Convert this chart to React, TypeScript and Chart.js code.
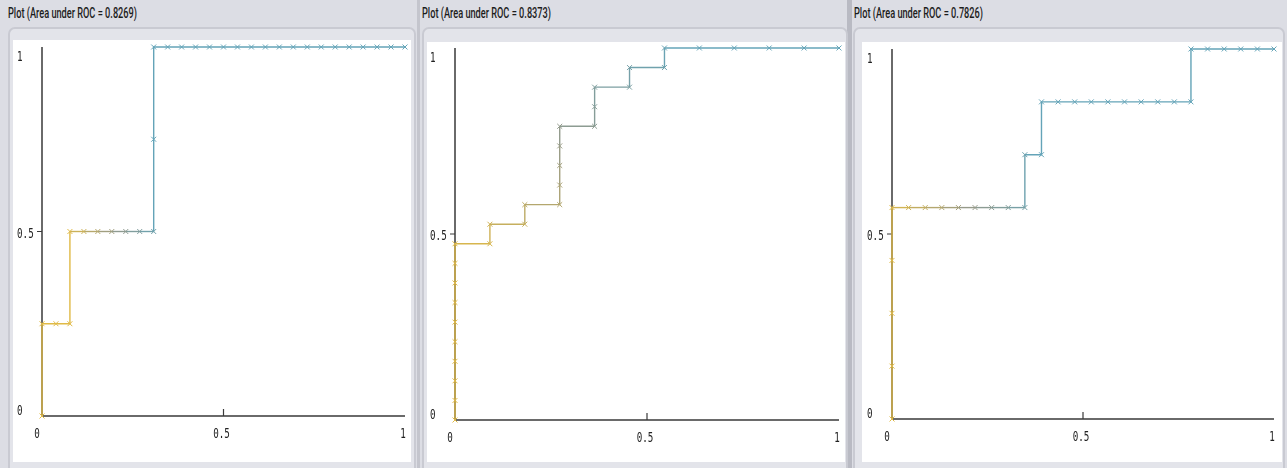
import React, { useEffect, useRef } from "react";
import { Chart, registerables } from "chart.js";

Chart.register(...registerables);

// ---- Data ----
const titles = [
  "Plot (Area under ROC = 0.8269)",
  "Plot (Area under ROC = 0.8373)",
  "Plot (Area under ROC = 0.7826)",
];

const tickValues = [0, 0.5, 1];
const tickLabels = ["0", "0.5", "1"];

const roc1Fpr = [0, 0, 0.0385, 0.0769, 0.0769, 0.1154, 0.1538, 0.1923, 0.2308, 0.2692, 0.3077, 0.3077, 0.3077,
  0.3462, 0.3846, 0.4231, 0.4615, 0.5, 0.5385, 0.5769, 0.6154, 0.6538, 0.6923, 0.7308, 0.7692, 0.8077, 0.8462,
  0.8846, 0.9231, 0.9615, 1];
const roc1Tpr = [0, 0.25, 0.25, 0.25, 0.5, 0.5, 0.5, 0.5, 0.5, 0.5, 0.5, 0.75, 1,
  1, 1, 1, 1, 1, 1, 1, 1, 1, 1, 1, 1, 1, 1, 1, 1, 1, 1];

const roc2Fpr = [0, 0, 0, 0, 0, 0, 0, 0, 0, 0, 0.0909, 0.0909, 0.1818, 0.1818, 0.2727, 0.2727, 0.2727, 0.2727,
  0.2727, 0.3636, 0.3636, 0.3636, 0.4545, 0.4545, 0.5455, 0.5455, 0.6364, 0.7273, 0.8182, 0.9091, 1];
const roc2Tpr = [0, 0.0526, 0.1053, 0.1579, 0.2105, 0.2632, 0.3158, 0.3684, 0.4211, 0.4737, 0.4737, 0.5263,
  0.5263, 0.5789, 0.5789, 0.6316, 0.6842, 0.7368, 0.7895, 0.7895, 0.8421, 0.8947, 0.8947, 0.9474, 0.9474, 1,
  1, 1, 1, 1, 1];

const roc3Fpr = [0, 0, 0, 0, 0, 0.0435, 0.087, 0.1304, 0.1739, 0.2174, 0.2609, 0.3043, 0.3478, 0.3478, 0.3913,
  0.3913, 0.4348, 0.4783, 0.5217, 0.5652, 0.6087, 0.6522, 0.6957, 0.7391, 0.7826, 0.7826, 0.8261, 0.8696,
  0.913, 0.9565, 1];
const roc3Tpr = [0, 0.1429, 0.2857, 0.4286, 0.5714, 0.5714, 0.5714, 0.5714, 0.5714, 0.5714, 0.5714, 0.5714,
  0.5714, 0.7143, 0.7143, 0.8571, 0.8571, 0.8571, 0.8571, 0.8571, 0.8571, 0.8571, 0.8571, 0.8571, 0.8571, 1,
  1, 1, 1, 1, 1];

// ---- Layout / style ----
const PANELS = [
  { fpr: roc1Fpr, tpr: roc1Tpr, colorFrom: 4, colorTo: 11,
    left: 0, width: 418, titleX: 8, frame: { x: 8, y: 27, w: 408 },
    white: { x: 13, y: 40, w: 398, h: 422 }, axes: { x0: 42, x1: 405, y0: 416, y1: 47 } },
  { fpr: roc2Fpr, tpr: roc2Tpr, colorFrom: 9, colorTo: 26,
    left: 419, width: 430, titleX: 422, frame: { x: 422, y: 27, w: 426 },
    white: { x: 427, y: 42, w: 418, h: 420 }, axes: { x0: 455, x1: 839, y0: 420, y1: 48 } },
  { fpr: roc3Fpr, tpr: roc3Tpr, colorFrom: 4, colorTo: 14,
    left: 851, width: 436, titleX: 854, frame: { x: 853, y: 27, w: 432 },
    white: { x: 862, y: 42, w: 420, h: 420 }, axes: { x0: 892, x1: 1274, y0: 419, y1: 49 } },
];

const YELLOW = [224, 186, 70];
const GRAY = [150, 154, 138];
const BLUE = [100, 164, 184];
function mix(t: number) {
  const [a, b, u] = t < 0.5 ? [YELLOW, GRAY, t * 2] : [GRAY, BLUE, (t - 0.5) * 2];
  const c = a.map((v, k) => Math.round(v + (b[k] - v) * u));
  return `rgb(${c[0]},${c[1]},${c[2]})`;
}

const axesPlugin = {
  id: "wekaAxes",
  beforeDatasetsDraw(chart: any) {
    const { ctx } = chart;
    const xs = chart.scales.x;
    const ys = chart.scales.y;
    const ax = xs.getPixelForValue(0);
    const ay = ys.getPixelForValue(0);
    ctx.save();
    ctx.strokeStyle = "#3a3a3a";
    ctx.lineWidth = 1.5;
    ctx.beginPath();
    ctx.moveTo(ax, ys.getPixelForValue(1));
    ctx.lineTo(ax, ay);
    ctx.lineTo(xs.getPixelForValue(1), ay);
    ctx.stroke();
    // 0.5 ticks
    ctx.lineWidth = 1.2;
    ctx.beginPath();
    ctx.moveTo(ax - 5, ys.getPixelForValue(0.5));
    ctx.lineTo(ax, ys.getPixelForValue(0.5));
    ctx.moveTo(xs.getPixelForValue(0.5), ay);
    ctx.lineTo(xs.getPixelForValue(0.5), ay - 7);
    ctx.stroke();
    // labels
    ctx.fillStyle = "#222";
    ctx.font = "14px 'DejaVu Sans Mono'";
    ctx.textBaseline = "middle";
    const sx = 0.66;
    tickValues.forEach((v, i) => {
      const lab = tickLabels[i];
      const w = ctx.measureText(lab).width * sx;
      const yy = ys.getPixelForValue(v) + (-5 + 15 * v);
      ctx.save();
      ctx.translate(ax - 25, yy);
      ctx.scale(sx, 1);
      ctx.textAlign = "left";
      ctx.fillText(lab, 0, 0);
      ctx.restore();
      const xx = xs.getPixelForValue(v) - (v === 0 ? 5 : 2);
      ctx.save();
      ctx.translate(xx - w / 2, ay + 18);
      ctx.scale(sx, 1);
      ctx.textAlign = "left";
      ctx.fillText(lab, 0, 0);
      ctx.restore();
    });
    ctx.restore();
  },
};

function RocPanel({ p, title }: { p: any; title: string }) {
  const canvasRef = useRef<HTMLCanvasElement | null>(null);
  const titleRef = useRef<HTMLSpanElement | null>(null);

  useEffect(() => {
    const t = titleRef.current;
    if (t) {
      t.style.transform = "none";
      const w = t.getBoundingClientRect().width;
      t.style.transform = `scaleX(${129 / w})`;
    }
    const canvas = canvasRef.current;
    if (!canvas) return;
    const n = p.fpr.length;
    const colors = p.fpr.map((_: number, i: number) =>
      mix(Math.max(0, Math.min(1, (i - p.colorFrom) / (p.colorTo - p.colorFrom))))
    );
    const a = p.axes;
    const wh = p.white;
    const chart = new Chart(canvas, {
      type: "line",
      data: {
        datasets: [
          {
            data: p.fpr.map((x: number, i: number) => ({ x, y: p.tpr[i] })),
            borderColor: colors[n - 1],
            borderWidth: 1.4,
            tension: 0,
            fill: false,
            pointStyle: "crossRot",
            pointRadius: 3.5,
            pointBorderWidth: 1,
            pointBorderColor: colors,
            pointBackgroundColor: colors,
            clip: false as any,
            segment: {
              borderColor: (ctx: any) => colors[ctx.p1DataIndex],
            },
          },
        ],
      },
      options: {
        animation: false,
        responsive: false,
        devicePixelRatio: 1,
        layout: {
          padding: {
            left: a.x0 - wh.x,
            right: wh.x + wh.w - a.x1,
            top: a.y1 - wh.y,
            bottom: wh.y + wh.h - a.y0,
          },
        },
        plugins: { legend: { display: false }, tooltip: { enabled: false }, title: { display: false } },
        scales: {
          x: { type: "linear", min: 0, max: 1, display: false },
          y: { type: "linear", min: 0, max: 1, display: false },
        },
      },
      plugins: [axesPlugin],
    });
    return () => chart.destroy();
  }, [p]);

  return (
    <>
      <div
        style={{
          position: "absolute",
          left: p.titleX,
          top: 3,
          height: 20,
          lineHeight: "20px",
          whiteSpace: "nowrap",
          fontFamily: "Roboto, 'Noto Sans', sans-serif",
          fontWeight: 500,
          fontSize: 15,
          color: "#1c1c1c",
        }}
      >
        <span ref={titleRef} style={{ display: "inline-block", transformOrigin: "0 50%" }}>
          {title}
        </span>
      </div>
      <div
        style={{
          position: "absolute",
          left: p.frame.x,
          top: p.frame.y,
          width: p.frame.w,
          height: 460,
          border: "2px solid #c9cad2",
          borderRadius: 7,
          boxSizing: "border-box",
          background: "#e3e4ea",
        }}
      />
      <canvas
        ref={canvasRef}
        width={p.white.w}
        height={p.white.h}
        style={{
          position: "absolute",
          left: p.white.x,
          top: p.white.y,
          width: p.white.w,
          height: p.white.h,
          background: "#ffffff",
        }}
      />
    </>
  );
}

export default function App() {
  useEffect(() => {
    document.body.style.margin = "0";
  }, []);
  return (
    <div
      style={{
        position: "fixed",
        left: 0,
        top: 0,
        width: 1287,
        height: 468,
        overflow: "hidden",
        background: "#dcdde4",
      }}
    >
      <div style={{ position: "absolute", left: 417, top: 0, width: 3, height: 468, background: "#c4c5cd" }} />
      <div style={{ position: "absolute", left: 847, top: 0, width: 5, height: 468, background: "#b9bac3" }} />
      {PANELS.map((p, i) => (
        <RocPanel key={i} p={p} title={titles[i]} />
      ))}
    </div>
  );
}
